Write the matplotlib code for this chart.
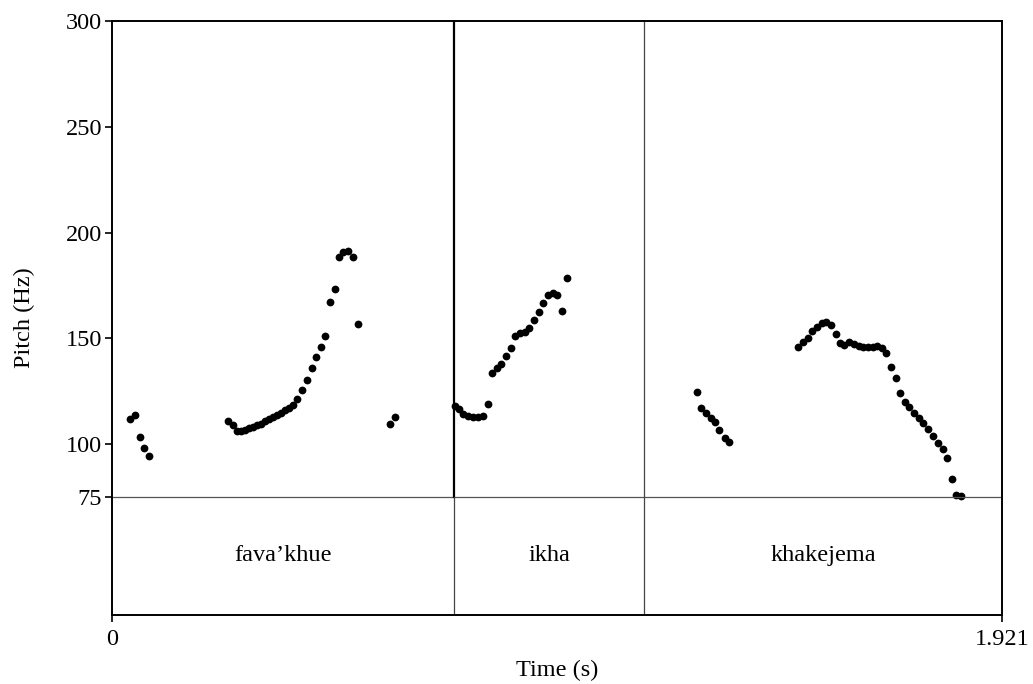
import matplotlib
matplotlib.use("Agg")
import matplotlib.pyplot as plt

plt.rcParams["font.family"] = ["Liberation Serif", "DejaVu Serif"]

# pitch track (s, Hz), one list per voiced stretch
t1 = [0.0395, 0.0490, 0.0611, 0.0697, 0.0805]
f1 = [111.9, 113.6, 103.2, 98.2, 94.4]

t2 = [0.2497, 0.2605, 0.2698, 0.2784, 0.2871, 0.2957, 0.3043, 0.3130, 0.3216,
      0.3302, 0.3389, 0.3475, 0.3561, 0.3648, 0.3734, 0.3820, 0.3907, 0.3993,
      0.4107, 0.4202, 0.4310, 0.4403, 0.4505, 0.4604, 0.4705, 0.4807, 0.4900,
      0.4992, 0.5094, 0.5202, 0.5310]
f2 = [110.8, 109.2, 106.2, 106.2, 106.7, 107.4, 108.1, 108.8, 109.5,
      110.7, 111.9, 112.8, 113.8, 114.9, 115.9, 117.1, 118.5, 121.1,
      125.6, 130.5, 136.1, 141.2, 145.8, 151.2, 167.2, 173.2, 188.3,
      190.8, 191.4, 188.3, 156.6]

t3 = [0.6007, 0.6108]
f3 = [109.4, 112.7]

t4 = [0.7403, 0.7490, 0.7583, 0.7690, 0.7798, 0.7906, 0.8001, 0.8109, 0.8195,
      0.8303, 0.8403, 0.8504, 0.8606, 0.8705, 0.8806, 0.8908, 0.9007, 0.9108,
      0.9210, 0.9309, 0.9404, 0.9512, 0.9611, 0.9713, 0.9814]
f4 = [118.0, 116.6, 114.2, 113.3, 113.0, 113.0, 113.4, 119.1, 133.8,
      135.8, 137.9, 141.8, 145.3, 151.1, 152.4, 152.9, 154.7, 158.5,
      162.5, 166.7, 170.3, 171.6, 170.6, 163.1, 178.5]

t5 = [1.2620, 1.2707, 1.2815, 1.2922, 1.3015, 1.3108, 1.3225, 1.3317]
f5 = [124.6, 116.9, 114.9, 112.2, 110.3, 106.7, 102.7, 101.1]

t6 = [1.4813, 1.4908, 1.5016, 1.5115, 1.5210, 1.5318, 1.5411, 1.5519, 1.5627,
      1.5713, 1.5806, 1.5907, 1.6015, 1.6117, 1.6216, 1.6318, 1.6419, 1.6518,
      1.6620, 1.6706, 1.6821, 1.6916, 1.7015, 1.7110, 1.7209, 1.7317, 1.7418,
      1.7511, 1.7619, 1.7720, 1.7822, 1.7930, 1.8022, 1.8124, 1.8210, 1.8318]
f6 = [146.0, 148.3, 150.0, 153.3, 155.5, 157.1, 157.6, 156.2, 152.0,
      147.7, 146.9, 148.1, 147.2, 146.4, 146.0, 146.0, 146.0, 146.4,
      145.3, 143.2, 136.3, 131.3, 124.0, 119.9, 117.4, 114.6, 112.3,
      110.1, 107.0, 103.8, 100.7, 97.8, 93.6, 83.5, 76.1, 75.5]

# text tier
bounds = [0.7382, 1.1483]
words = ["fava\u2019khue", "ikha", "khakejema"]

t_end = 1.921
f_lo, f_hi = 75, 300
tier_bottom = 19.2
yticks = [75, 100, 150, 200, 250, 300]
FS = 17.5

fig = plt.figure(figsize=(10.33, 6.84), dpi=100)
ax = fig.add_axes([0.1084, 0.1009, 0.8616, 0.8684])

for t, f in [(t1, f1), (t2, f2), (t3, f3), (t4, f4), (t5, f5), (t6, f6)]:
    ax.plot(t, f, "o", color="black", ms=5.6, mec="none")

# tier lines
ax.axhline(f_lo, color="#555555", lw=0.9)
ax.plot([bounds[0]] * 2, [f_lo, f_hi], color="black", lw=1.6)
ax.plot([bounds[0]] * 2, [tier_bottom, f_lo], color="#444444", lw=0.9)
ax.plot([bounds[1]] * 2, [tier_bottom, f_hi], color="#444444", lw=0.9)

edges = [0] + bounds + [t_end]
for i, w in enumerate(words):
    ax.text((edges[i] + edges[i + 1]) / 2, (f_lo + tier_bottom) / 2, w,
            ha="center", va="center", fontsize=FS)

ax.set_xlim(0, t_end)
ax.set_ylim(tier_bottom, f_hi)
ax.set_yticks(yticks)
ax.set_xticks([0, t_end])
ax.set_xticklabels(["0", "1.921"])
ax.tick_params(axis="both", direction="out", length=5, width=1.2,
               labelsize=FS, pad=2)
ax.tick_params(axis="x", pad=5)
for s in ax.spines.values():
    s.set_linewidth(1.4)
ax.set_xlabel("Time (s)", fontsize=FS, labelpad=7)
ax.set_ylabel("Pitch (Hz)", fontsize=FS, labelpad=22)

fig.savefig("out.png", dpi=100)
